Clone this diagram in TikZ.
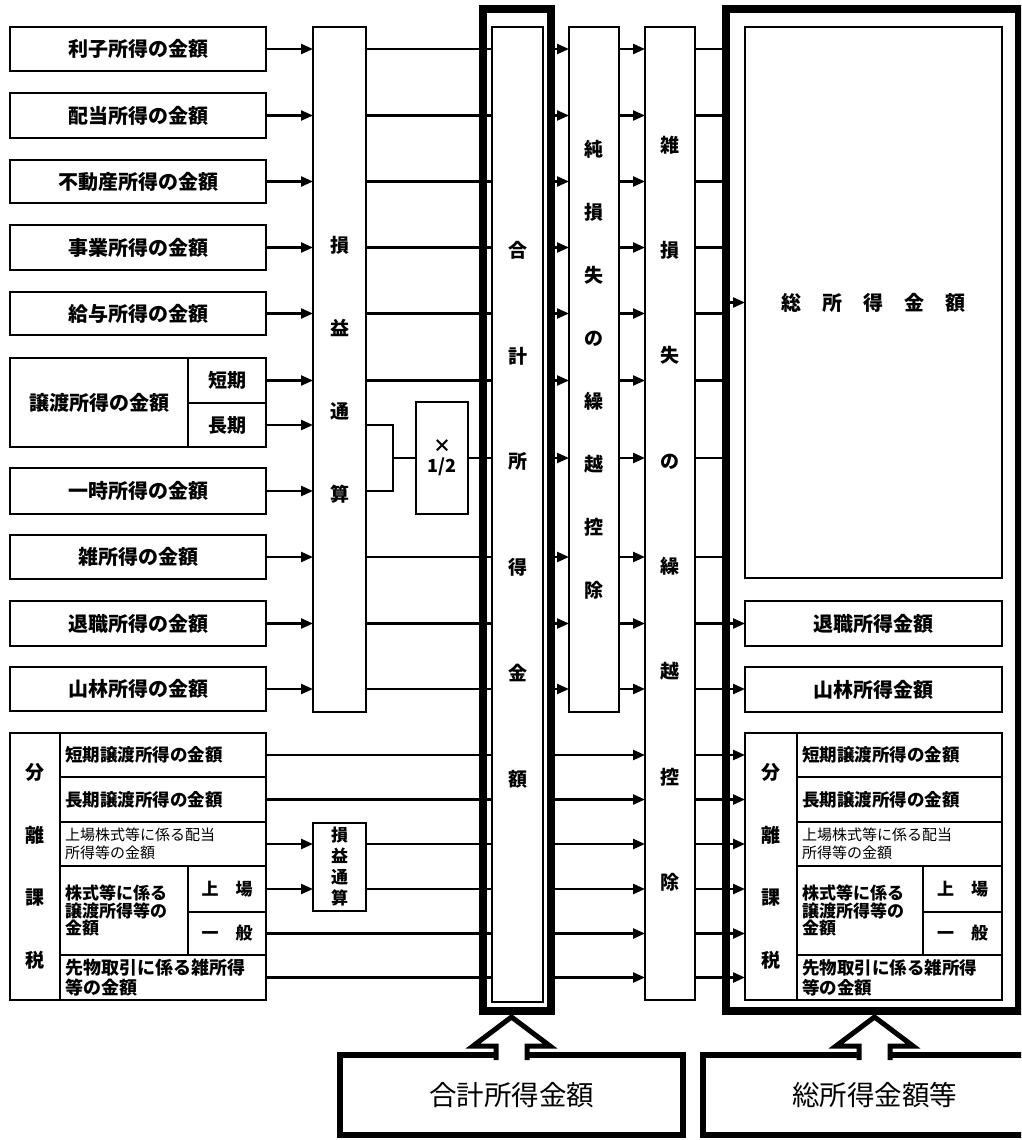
\documentclass[tikz,border=0pt]{standalone}
\usepackage{fontspec}
\newfontfamily\jp{Noto Sans CJK JP}
\usetikzlibrary{arrows.meta,calc}
\newcommand{\fsz}[2]{\fontsize{#1}{#2}\selectfont}
\newcommand{\mkbx}[7][]{\node[bx,#1,minimum width={(#5-#3)*1pt},minimum height={(#6-#4)*1pt}] (#2) at (#3,#4) {#7};}
\begin{document}
\begin{tikzpicture}[x=1pt,y=-1pt,
  bx/.style={draw, line width=2pt, inner sep=0pt, outer sep=0pt, anchor=north west, font=\jp\bfseries\fsz{20}{22}, align=center},
  lrow/.style={inner xsep=5pt, align=left},
  frm/.style={draw, line width=8pt, inner sep=0pt, outer sep=0pt, anchor=north west},
  lab/.style={draw, line width=6pt, inner sep=0pt, outer sep=0pt, anchor=north west, font=\jp\fsz{27.5}{30}},
  ln/.style={line width=2.3pt},
  arr/.style={line width=2.3pt, -{Triangle[length=12pt,width=10pt]}},
  blk/.style={line width=5pt, line join=miter},
]
\useasboundingbox (0,0) rectangle (1021,1140);
\clip (0,0) rectangle (1021,1140);
\fill[white] (0,0) rectangle (1021,1140);

% left input boxes
\mkbx{r1}{10}{27}{266}{71}{利子所得の金額}
\mkbx{r2}{10}{93}{266}{138}{配当所得の金額}
\mkbx{r3}{10}{160}{266}{203}{不動産所得の金額}
\mkbx{r4}{10}{225}{266}{270}{事業所得の金額}
\mkbx{r5}{10}{292}{266}{335}{給与所得の金額}
\mkbx{jt}{10}{358}{188}{447}{譲渡所得の金額}
\mkbx[font=\jp\bfseries\fsz{19}{22}]{js}{188}{358}{266}{403}{短期}
\mkbx[font=\jp\bfseries\fsz{19}{22}]{jl}{188}{403}{266}{447}{長期}
\mkbx{r7}{10}{468}{266}{514}{一時所得の金額}
\mkbx{r8}{10}{535}{266}{579}{雑所得の金額}
\mkbx{r9}{10}{601}{266}{646}{退職所得の金額}
\mkbx{r10}{10}{667}{266}{711}{山林所得の金額}

% left separate taxation block
\mkbx[font=\jp\bfseries\fsz{19}{62.7}]{lbl}{10}{733}{60}{1000}{分\\離\\課\\税}
\mkbx[lrow,text width=196pt,font=\jp\bfseries\fsz{17.5}{20}]{ls1}{60}{733}{266}{777}{短期譲渡所得の金額}
\mkbx[lrow,text width=196pt,font=\jp\bfseries\fsz{17.5}{20}]{ls2}{60}{777}{266}{822}{長期譲渡所得の金額}
\mkbx[lrow,text width=196pt,font=\jp\fsz{15}{18}]{ls3}{60}{822}{266}{866}{上場株式等に係る配当\\所得等の金額}
\mkbx[lrow,text width=118pt,font=\jp\bfseries\fsz{17}{17.5}]{ls4}{60}{866}{188}{955}{株式等に係る\\譲渡所得等の\\金額}
\mkbx[font=\jp\bfseries\fsz{17}{20}]{ls4a}{188}{866}{266}{912}{上　場}
\mkbx[font=\jp\bfseries\fsz{17}{20}]{ls4b}{188}{912}{266}{955}{一　般}
\mkbx[lrow,text width=196pt,font=\jp\bfseries\fsz{18}{20}]{ls5}{60}{955}{266}{1000}{先物取引に係る雑所得\\等の金額}

% columns
\mkbx[font=\jp\bfseries\fsz{19}{83}]{son}{313}{27}{366}{712}{損\\益\\通\\算}
\mkbx[font=\jp\bfseries\fsz{17}{21}]{son2}{313}{823}{366}{911}{損\\益\\通\\算}
\mkbx[font=\jp\bfseries\fsz{18}{20}]{half}{416}{402}{468}{514}{×\\1/2}
\mkbx[font=\jp\bfseries\fsz{19}{105.8}]{goukei}{492}{27}{543}{1002}{合\\計\\所\\得\\金\\額}
\mkbx[font=\jp\bfseries\fsz{19}{63}]{jun}{569}{27}{619}{712}{純\\損\\失\\の\\繰\\越\\控\\除}
\mkbx[font=\jp\bfseries\fsz{19}{105.3}]{zatsu}{645}{27}{695}{1000}{雑\\損\\失\\の\\繰\\越\\控\\除}

% right result boxes
\mkbx{sou}{745}{27}{1002}{578}{総\hspace{21pt}所\hspace{21pt}得\hspace{21pt}金\hspace{21pt}額}
\mkbx{rtai}{745}{601}{1002}{646}{退職所得金額}
\mkbx{rsan}{745}{667}{1002}{712}{山林所得金額}
\mkbx[font=\jp\bfseries\fsz{19}{62.7}]{rbl}{745}{733}{797}{1000}{分\\離\\課\\税}
\mkbx[lrow,text width=195pt,font=\jp\bfseries\fsz{17.5}{20}]{rs1}{797}{733}{1002}{777}{短期譲渡所得の金額}
\mkbx[lrow,text width=195pt,font=\jp\bfseries\fsz{17.5}{20}]{rs2}{797}{777}{1002}{822}{長期譲渡所得の金額}
\mkbx[lrow,text width=195pt,font=\jp\fsz{15}{18}]{rs3}{797}{822}{1002}{866}{上場株式等に係る配当\\所得等の金額}
\mkbx[lrow,text width=116pt,font=\jp\bfseries\fsz{17}{17.5}]{rs4}{797}{866}{923}{955}{株式等に係る\\譲渡所得等の\\金額}
\mkbx[font=\jp\bfseries\fsz{17}{20}]{rs4a}{923}{866}{1002}{912}{上　場}
\mkbx[font=\jp\bfseries\fsz{17}{20}]{rs4b}{923}{912}{1002}{955}{一　般}
\mkbx[lrow,text width=195pt,font=\jp\bfseries\fsz{17.5}{20}]{rs5}{797}{955}{1002}{1000}{先物取引に係る雑所得\\等の金額}

% thick frames
\node[frm,minimum width=68.5pt,minimum height=1002pt] (fr1) at (482.5,9) {};
\node[frm,minimum width=292.5pt,minimum height=1002pt] (fr2) at (726,9) {};

% connectors into 損益通算
\foreach \n in {r1,r2,r3,r4,r5,js,jl,r7,r8,r9,r10}
  \draw[arr] (\n.east) -- (son.west |- \n.east);
% out of 損益通算
\foreach \n in {r1,r2,r3,r4,r5,js,r8,r9,r10}
  \draw[ln] (son.east |- \n.east) -- (goukei.west |- \n.east);
\coordinate (brk) at (393,458);
\draw[ln] (son.east |- jl.east) -| (brk |- r7.east) -- (son.east |- r7.east);
\draw[ln] (brk) -- (half.west);
\draw[ln] (half.east) -- (goukei.west |- half.east);
% through 純損失 and 雑損失
\foreach \n in {r1,r2,r3,r4,r5,js,half,r8,r9,r10}{
  \draw[arr] (fr1.east |- \n.east) -- (jun.west |- \n.east);
  \draw[arr] (jun.east |- \n.east) -- (zatsu.west |- \n.east);
}
\foreach \n in {r1,r2,r3,r4,r5,js,half,r8}
  \draw[ln] (zatsu.east |- \n.east) -- (fr2.west |- \n.east);
\draw[arr] (fr2.west |- sou.west) -- (sou.west);
\draw[arr] (zatsu.east |- r9.east) -- (rtai.west |- r9.east);
\draw[arr] (zatsu.east |- r10.east) -- (rsan.west |- r10.east);

% separate taxation rows
\foreach \n in {ls1,ls2,ls4b,ls5}
  \draw[ln] (\n.east) -- (goukei.west |- \n.east);
\foreach \n in {ls3,ls4a}{
  \draw[arr] (\n.east) -- (son2.west |- \n.east);
  \draw[ln] (son2.east |- \n.east) -- (goukei.west |- \n.east);
}
\foreach \n in {ls1,ls2,ls3,ls4a,ls4b,ls5}{
  \draw[arr] (fr1.east |- \n.east) -- (zatsu.west |- \n.east);
  \draw[arr] (zatsu.east |- \n.east) -- (rbl.west |- \n.east);
}

% bottom labels
\node[lab,minimum width=343pt,minimum height=80pt] (lab1) at (340,1055) {合計所得金額};
\node[lab,minimum width=343pt,minimum height=80pt] (lab2) at (703,1055) {総所得金額等};

% block arrows
\coordinate (t1) at ($(lab1.north |- fr1.south)+(0,6)$);
\coordinate (t2) at ($(lab2.north |- fr2.south)+(0,6)$);
\foreach \t in {t1,t2}{
  \fill[white] ($(\t)+(-15.5,43)$) -- ($(\t)+(-15.5,29)$) -- ($(\t)+(-38.5,29)$) -- (\t)
    -- ($(\t)+(38.5,29)$) -- ($(\t)+(15.5,29)$) -- ($(\t)+(15.5,43)$) -- cycle;
  \draw[blk] ($(\t)+(-15.5,43)$) -- ($(\t)+(-15.5,29)$) -- ($(\t)+(-38.5,29)$) -- (\t)
    -- ($(\t)+(38.5,29)$) -- ($(\t)+(15.5,29)$) -- ($(\t)+(15.5,43)$);
}
\end{tikzpicture}
\end{document}
